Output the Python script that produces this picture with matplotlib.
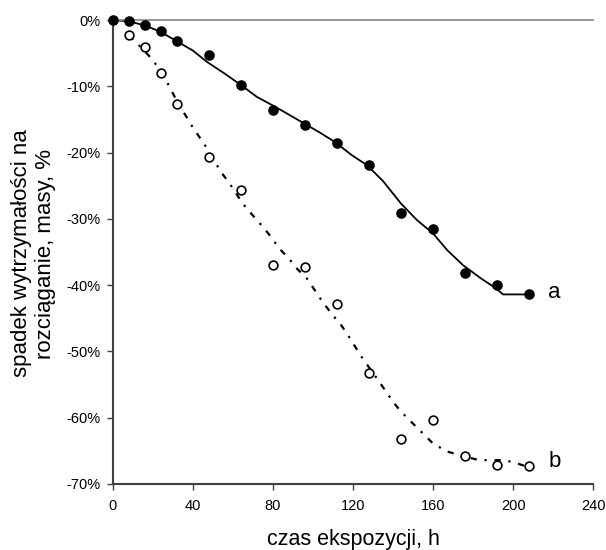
import matplotlib
matplotlib.use("Agg")
import matplotlib.pyplot as plt
from matplotlib.ticker import FuncFormatter, MultipleLocator

plt.rcParams['font.family'] = ['Liberation Sans', 'DejaVu Sans']

# measured points (time in h, loss in %)
hours = [0, 8, 16, 24, 32, 48, 64, 80, 96, 112, 128, 144, 160, 176, 192, 208]
loss_a = [0, -0.1, -0.8, -1.7, -3.1, -5.3, -9.8, -13.5, -15.9, -18.5,
          -21.9, -29.1, -31.6, -38.2, -40.0, -41.3]
hours_b = hours[1:]
loss_b = [-2.3, -4.1, -8.0, -12.6, -20.7, -25.6, -37.0, -37.3, -42.8,
          -53.3, -63.2, -60.3, -65.8, -67.2, -67.3]

# trend lines
trend_a_x = [0, 8, 16, 24, 32, 40, 47, 56, 64, 72, 80, 87, 95, 103, 111,
             119, 127, 135, 144, 152, 160, 167, 175, 184, 191, 195, 208]
trend_a_y = [0, -0.2, -0.8, -1.8, -3.2, -4.6, -6.3, -8.1, -9.8, -11.6, -12.9,
             -14.1, -15.5, -16.9, -18.4, -20.3, -21.9, -24.3, -27.7, -30.2,
             -32.2, -34.7, -37.0, -39.0, -40.4, -41.4, -41.4]
trend_b_x = [8, 15, 20, 24, 27, 32, 37, 40, 47, 54, 58, 65, 70, 75, 79, 83,
             88, 92, 97, 101, 105, 109, 114, 117, 124, 132, 140, 144, 154,
             160, 167, 175, 183, 196, 203, 208]
trend_b_y = [-2.3, -4.4, -6.0, -7.8, -9.3, -12.2, -14.7, -16.2, -19.3, -22.9,
             -24.5, -27.7, -29.5, -31.2, -32.7, -34.4, -36.0, -37.5, -39.0,
             -40.8, -42.6, -44.2, -46.0, -47.3, -50.7, -54.1, -57.6, -59.1,
             -62.1, -63.9, -65.1, -65.8, -66.4, -66.4, -67.0, -67.5]

fig = plt.figure(figsize=(6.06, 5.5), dpi=100)
ax = fig.add_axes([0.186, 0.12, 0.793, 0.8436])

ax.plot(trend_a_x, trend_a_y, color='black', lw=1.3, zorder=2)
ax.plot(trend_b_x, trend_b_y, color='black', lw=1.6,
        linestyle=(0, (2.8, 3.5, 1, 3.5)), zorder=2)
ax.plot(hours, loss_a, 'o', color='black', markersize=6.6, zorder=3,
        clip_on=False)
ax.plot(hours_b, loss_b, 'o', markerfacecolor='white', markeredgecolor='black',
        markeredgewidth=1.2, markersize=6.3, zorder=3, clip_on=False)

ax.text(217.5, -42.0, 'a', fontsize=16, va='baseline', ha='left')
ax.text(217.5, -67.5, 'b', fontsize=16, va='baseline', ha='left')

ax.set_xlim(0, 240)
ax.set_ylim(-70, 0)
ax.xaxis.set_major_locator(MultipleLocator(40))
ax.yaxis.set_major_locator(MultipleLocator(10))
ax.yaxis.set_major_formatter(FuncFormatter(lambda v, p: f"{v:.0f}%"))

for s in ['left', 'bottom']:
    ax.spines[s].set_color('#404040')
    ax.spines[s].set_linewidth(1.5)
ax.spines['top'].set_color('#8c8c8c')
ax.spines['top'].set_linewidth(1.3)
ax.spines['right'].set_visible(False)
ax.tick_params(direction='out', length=4, width=1, color='#404040',
               labelsize=10.5)
ax.tick_params(axis='x', pad=7)
ax.tick_params(axis='y', pad=5)

fig.text(0.5825, 0.01, 'czas ekspozycji, h', fontsize=15.5, ha='center',
         va='baseline')
fig.text(0.055, 0.539, 'spadek wytrzymałości na\nrozciąganie, masy, %',
         fontsize=16, rotation=90, ha='center', va='center',
         multialignment='center', linespacing=1.2)

fig.savefig('out.png', dpi=100)
